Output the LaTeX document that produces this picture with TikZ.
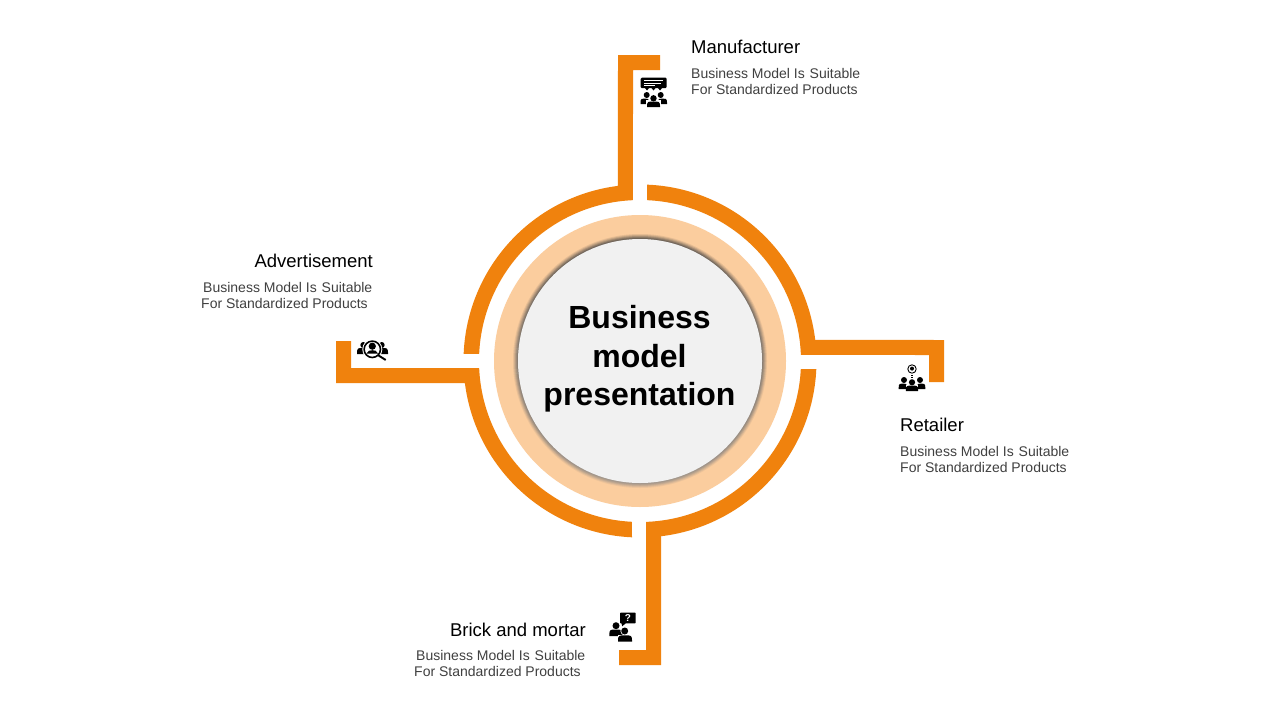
\documentclass[tikz,border=0pt]{standalone}
\usepackage{fontspec}
\setmainfont[Kerning=Off]{Liberation Sans}
\definecolor{ringorange}{HTML}{F0820D}
\definecolor{ringpeach}{HTML}{FBCD9E}
\definecolor{corefill}{HTML}{F1F1F1}
\definecolor{bodygray}{HTML}{404040}
\definecolor{shade}{HTML}{5A4028}
\newcommand{\iconfig}[7]{%
  % head x, head y, head r, body x1, body x2, body top, body bottom
  \fill (#1,#2) circle[radius=#3pt];
  \fill (#4,#7) -- (#4,#7-1.5) .. controls (#4,#6) and (#4+1.5,#6) .. ({0.5*(#4+#5)},#6)
        .. controls (#5-1.5,#6) and (#5,#6) .. (#5,#7-1.5) -- (#5,#7) -- cycle;
}
\newcommand{\blurbtext}{Business Model Is\hspace{1pt} Suitable\\For Standardized Products}
\tikzset{
  heading/.style={font=\fontsize{18.5}{22}\selectfont,text=black,inner sep=0pt},
  blurb/.style={font=\fontsize{14}{16}\selectfont,text=bodygray,inner sep=0pt,align=left},
  ringpiece/.style={fill=ringorange,draw=none},
}
\begin{document}
\begin{tikzpicture}[x=1pt,y=-1pt]
\useasboundingbox (0,0) rectangle (1280,720);
\fill[white] (0,0) rectangle (1280,720);
\begin{scope}[x=1pt,y=1pt,shift={(640pt,-361pt)}]
  % top-left piece
  \path[ringpiece] (-22,306) -- (20,306) -- (20,291) -- (-7,291) -- (92.5:161)
    arc[start angle=92.5,end angle=177.5,radius=161] -- (177.72:176.5)
    arc[start angle=177.72,end angle=97.18,radius=176.5] -- cycle;
  % top-right piece
  \path[ringpiece] (87.72:176.5) arc[start angle=87.72,end angle=6.85,radius=176.5]
    -- (304,21) -- (304,-21) -- (289,-21) -- (289,6) -- (2.15:161)
    arc[start angle=2.15,end angle=87.49,radius=161] -- cycle;
  % bottom-right piece
  \path[ringpiece] (-2.6:176.5) arc[start angle=-2.6,end angle=-83.15,radius=176.5]
    -- (21,-304) -- (-21,-304) -- (-21,-289) -- (6,-289) -- (-87.85:161)
    arc[start angle=-87.85,end angle=-2.87,radius=161] -- cycle;
  % bottom-left piece
  \path[ringpiece] (-92.6:176.5) arc[start angle=-92.6,end angle=-172.82,radius=176.5]
    -- (-304,-22) -- (-304,20) -- (-289,20) -- (-289,-7) -- (-177.5:161)
    arc[start angle=-177.5,end angle=-92.87,radius=161] -- cycle;
  % peach ring and core
  \fill[ringpeach] (0,0) circle[radius=146pt];
  \fill[shade,opacity=.06] (0,0) circle[radius=127pt];
  \fill[shade,opacity=.09] (0,0) circle[radius=126pt];
  \fill[shade,opacity=.12] (0,0) circle[radius=125pt];
  \fill[shade,opacity=.16] (0,0) circle[radius=124pt];
  \fill[shade,opacity=.22] (0,0) circle[radius=123pt];
  \fill[corefill] (0,0) circle[radius=122pt];
\end{scope}

\node[font=\fontsize{32}{38.5}\selectfont\bfseries,align=center,inner sep=0pt,text=black] (title) at (639.5,359) {Business\\model\\presentation};

% texts
\node[heading,anchor=west] (manu) at (691,47) {Manufacturer};
\node[blurb,anchor=west] (manutext) at (691,81) {\blurbtext};
\node[heading,anchor=west] (retail) at (900,425) {Retailer};
\node[blurb,anchor=west] (retailtext) at (900,459) {\blurbtext};
\node[heading,anchor=east] (adv) at (373,261) {Advertisement};
\node[blurb,anchor=west] (advtext) at (201,295) {\hspace*{2pt}\blurbtext};
\node[heading,anchor=east] (brick) at (586,630) {Brick and mortar};
\node[blurb,anchor=west] (bricktext) at (414,663) {\hspace*{2pt}\blurbtext};

% icon: manufacturer
\fill[rounded corners=1.2pt] (640.7,77.7) rectangle (666.7,88.2);
\fill (645,88) -- (649,88) -- (647,90.5) -- cycle;
\fill (651.5,88) -- (655.5,88) -- (653.5,90.5) -- cycle;
\fill (658,88) -- (662,88) -- (660,90.5) -- cycle;
\draw[white,line width=.7pt] (644,80.8) -- (663,80.8) (644,83) -- (661,83) (644,85.2) -- (655,85.2);
\iconfig{646.7}{95}{3}{640.5}{649}{98.5}{104}
\iconfig{660.7}{95}{3}{658}{667}{98.5}{104}
\fill[white] (653.5,98.3) circle[radius=4pt];
\fill[white] (646,107.5) rectangle (661,100);
\iconfig{653.5}{98.3}{3.2}{647}{660}{101.5}{107.2}

% icon: retailer
\draw[line width=.9pt] (912,369) circle[radius=4.2pt];
\fill (912,368.6) circle[radius=2pt];
\fill (911.4,374.5) rectangle (912.6,375.6);
\fill (911.4,376.6) rectangle (912.6,377.4);
\iconfig{904}{380}{3}{898.7}{907}{383.5}{389}
\iconfig{920}{380}{3}{917}{925.3}{383.5}{389}
\fill[white] (905.7,385) rectangle (918.3,391.5);
\fill[white] (912,382.3) circle[radius=3.8pt];
\iconfig{912}{382.3}{3.1}{905.8}{918.2}{385.6}{391.2}

% icon: brick and mortar
\fill[rounded corners=.6pt] (620,612.7) rectangle (635.7,623.3);
\fill (621,622) -- (622.3,626.3) -- (627,622) -- cycle;
\node[font=\fontsize{10}{10}\selectfont\bfseries,text=white,inner sep=0pt] (q) at (627.8,618) {?};
\iconfig{616}{625.7}{3.5}{609.3}{622.5}{629.5}{636}
\fill[white] (624.7,631) circle[radius=4.3pt];
\fill[white] (617.6,634.5) rectangle (632.4,642);
\iconfig{624.7}{631}{3.5}{618}{632}{635.3}{641.5}

% icon: advertisement
\iconfig{363.3}{345}{3}{357}{368}{348}{354}
\iconfig{381.7}{345}{3}{377}{388}{348}{354}
\fill[white] (372.3,349.3) circle[radius=10pt];
\draw[line width=1.6pt] (372.3,349.3) circle[radius=8.2pt];
\draw[line width=1.9pt] (378.3,355.3) -- (385.7,360);
\fill (372.3,346.2) circle[radius=3.6pt];
\fill (366.5,353.5) .. controls (367.5,350.6) and (370,350.2) .. (372.3,350.2) .. controls (374.6,350.2) and (377,350.6) .. (378,353.5) -- cycle;
\end{tikzpicture}
\end{document}
